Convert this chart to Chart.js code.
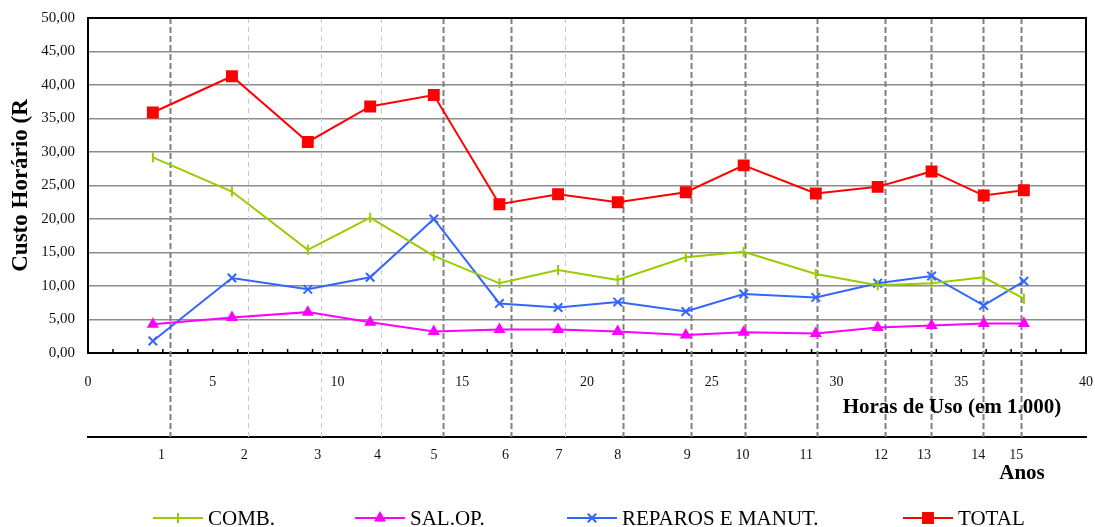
<!DOCTYPE html>
<html>
<head>
<meta charset="utf-8">
<script src="https://cdn.jsdelivr.net/npm/chart.js@4/dist/chart.umd.min.js"></script>
<style>
  body { margin: 0; background: #fff; }
  #wrap { width: 1095px; height: 527px; }
</style>
</head>
<body>
<div id="wrap"><canvas id="custo-chart" width="1095" height="527"></canvas></div>
<script>
// Horas de uso acumuladas (em 1.000) em cada ano
const horas = [2.60, 5.77, 8.81, 11.31, 13.86, 16.49, 18.84, 21.23, 23.96, 26.28, 29.17, 31.65, 33.81, 35.90, 37.51];

// Custo horário por componente
const comb = [29.2, 24.1, 15.4, 20.2, 14.5, 10.4, 12.4, 10.9, 14.3, 15.1, 11.8, 10.1, 10.4, 11.3, 8.1];
const salOp = [4.3, 5.3, 6.1, 4.6, 3.2, 3.5, 3.5, 3.2, 2.7, 3.1, 2.9, 3.8, 4.1, 4.4, 4.4];
const reparos = [1.8, 11.2, 9.5, 11.3, 20.0, 7.4, 6.8, 7.6, 6.2, 8.8, 8.3, 10.4, 11.5, 7.1, 10.7];
const total = [35.9, 41.3, 31.5, 36.8, 38.5, 22.2, 23.7, 22.5, 24.0, 28.0, 23.8, 24.8, 27.1, 23.5, 24.3];

// Eixo secundário: anos (rótulo e posição em horas)
const anosLabels = ['1', '2', '3', '4', '5', '6', '7', '8', '9', '10', '11', '12', '13', '14', '15'];
const anosPos = [2.95, 6.26, 9.21, 11.6, 13.87, 16.73, 18.88, 21.23, 24.02, 26.23, 28.79, 31.78, 33.51, 35.68, 37.2];

// Linhas tracejadas de fim de ano (em horas)
const divisoesAnos = [3.27, 6.43, 9.33, 11.74, 14.23, 16.95, 19.12, 21.43, 24.16, 26.33, 29.21, 31.94, 33.77, 35.87, 37.38];
const divisoesClaras = [2, 3, 4, 7]; // anos cuja linha é mais clara

const FONTE = '"Liberation Serif", "Times New Roman", serif';

function pontos(valores) {
    return horas.map((h, i) => ({ x: h, y: valores[i] }));
}

const series = [
    { label: 'COMB.', data: comb, color: '#99CC00', style: 'line', radius: 5, rotation: 90 },
    { label: 'SAL.OP.', data: salOp, color: '#FF00FF', style: 'triangle', radius: 5, rotation: 0 },
    { label: 'REPAROS E MANUT.', data: reparos, color: '#3366FF', style: 'crossRot', radius: 6, rotation: 0 },
    { label: 'TOTAL', data: total, color: '#FF0000', style: 'rect', radius: 7, rotation: 0 }
];

// Tira o espaço extra que o Chart.js reserva para os rótulos das pontas
function semPadding(scale) {
    scale.paddingLeft = 0;
    scale.paddingRight = 0;
    scale.paddingTop = 0;
    scale.paddingBottom = 0;
}

// Desenha linhas tracejadas, ticks internos, bordas, títulos e legenda
const decoracao = {
    id: 'decoracao',
    beforeDatasetsDraw(chart) {
        const ctx = chart.ctx;
        const area = chart.chartArea;
        const x = chart.scales.x;
        const fundo = chart.scales.x2.top;

        ctx.save();
        divisoesAnos.forEach((h, i) => {
            const px = Math.round(x.getPixelForValue(h)) + 0.5;
            const clara = divisoesClaras.includes(i + 1);
            ctx.beginPath();
            ctx.setLineDash(clara ? [5, 4] : [6, 3]);
            ctx.strokeStyle = clara ? '#c8c8c8' : '#808080';
            ctx.lineWidth = clara ? 1 : 2;
            ctx.moveTo(px, area.top);
            ctx.lineTo(px, fundo);
            ctx.stroke();
        });
        ctx.setLineDash([]);

        // ticks voltados para dentro
        ctx.strokeStyle = '#000';
        ctx.lineWidth = 1.5;
        x.ticks.forEach(t => {
            const px = x.getPixelForValue(t.value);
            ctx.beginPath();
            ctx.moveTo(px, area.bottom - 4);
            ctx.lineTo(px, area.bottom);
            ctx.stroke();
        });
        ctx.restore();
    },
    afterDraw(chart) {
        const ctx = chart.ctx;
        const area = chart.chartArea;
        const x2 = chart.scales.x2;

        ctx.save();
        // borda superior e direita
        ctx.strokeStyle = '#000';
        ctx.lineWidth = 2;
        ctx.beginPath();
        ctx.moveTo(area.left, area.top);
        ctx.lineTo(area.right, area.top);
        ctx.lineTo(area.right, area.bottom);
        ctx.stroke();

        // títulos dos eixos inferiores
        ctx.fillStyle = '#000';
        ctx.textAlign = 'center';
        ctx.textBaseline = 'middle';
        ctx.font = 'bold 21px ' + FONTE;
        ctx.fillText('Horas de Uso (em 1.000)', area.right - 134, x2.top - 29);
        ctx.fillText('Anos', area.right - 64, x2.top + 37);

        // legenda
        const itensX = [153, 355, 567, 903];
        const yLeg = 518;
        ctx.font = '21px ' + FONTE;
        ctx.textAlign = 'left';
        series.forEach((s, i) => {
            const x0 = itensX[i];
            ctx.strokeStyle = s.color;
            ctx.fillStyle = s.color;
            ctx.lineWidth = 2;
            ctx.beginPath();
            ctx.moveTo(x0, yLeg);
            ctx.lineTo(x0 + 50, yLeg);
            ctx.stroke();
            Chart.helpers.drawPoint(ctx, {
                pointStyle: s.style,
                radius: s.radius,
                rotation: s.rotation,
                borderWidth: 2
            }, x0 + 25, yLeg);
            ctx.fillStyle = '#000';
            ctx.fillText(s.label, x0 + 55, yLeg + 1);
        });
        ctx.restore();
    }
};

const ctx = document.getElementById('custo-chart').getContext('2d');

new Chart(ctx, {
    type: 'line',
    data: {
        datasets: series.map(s => ({
            label: s.label,
            data: pontos(s.data),
            borderColor: s.color,
            backgroundColor: s.color,
            borderWidth: 2,
            pointStyle: s.style,
            pointRadius: s.radius,
            pointRotation: s.rotation,
            pointBorderWidth: 2,
            pointBackgroundColor: s.color,
            pointBorderColor: s.color,
            tension: 0,
            fill: false
        }))
    },
    options: {
        responsive: false,
        animation: false,
        devicePixelRatio: 1,
        layout: {
            padding: { left: 0, right: 9, top: 18, bottom: 0 }
        },
        plugins: {
            legend: { display: false },
            tooltip: { enabled: false }
        },
        scales: {
            x: {
                type: 'linear',
                position: 'bottom',
                min: 0,
                max: 40,
                weight: 0,
                afterFit(scale) { scale.height = 84; semPadding(scale); },
                grid: { drawOnChartArea: false, drawTicks: false },
                border: { display: true, color: '#000', width: 2 },
                ticks: {
                    stepSize: 1,
                    autoSkip: false,
                    maxRotation: 0,
                    padding: 21,
                    color: '#111',
                    font: { family: FONTE, size: 14 },
                    callback: v => (v % 5 === 0 ? String(v) : '')
                }
            },
            x2: {
                type: 'linear',
                position: 'bottom',
                min: 0,
                max: 40,
                weight: 1,
                afterFit(scale) { scale.height = 90; semPadding(scale); },
                afterBuildTicks(scale) {
                    scale.ticks = anosPos.map(v => ({ value: v }));
                },
                grid: { drawOnChartArea: false, drawTicks: false },
                border: { display: true, color: '#000', width: 2 },
                ticks: {
                    autoSkip: false,
                    maxRotation: 0,
                    padding: 10,
                    color: '#111',
                    font: { family: FONTE, size: 14 },
                    callback: (v, i) => anosLabels[i]
                }
            },
            y: {
                min: 0,
                max: 50,
                afterFit(scale) { scale.width = 88; semPadding(scale); },
                grid: {
                    color: '#8c8c8c',
                    lineWidth: 1.5,
                    drawTicks: false
                },
                border: { display: true, color: '#000', width: 2 },
                ticks: {
                    stepSize: 5,
                    padding: 13,
                    color: '#111',
                    font: { family: FONTE, size: 15 },
                    callback: v => v.toFixed(2).replace('.', ',')
                },
                title: {
                    display: true,
                    text: 'Custo Horário (R',
                    color: '#000',
                    font: { family: FONTE, size: 23, weight: 'bold' },
                    padding: { top: 7, bottom: 0 }
                }
            }
        }
    },
    plugins: [decoracao]
});
</script>
</body>
</html>
